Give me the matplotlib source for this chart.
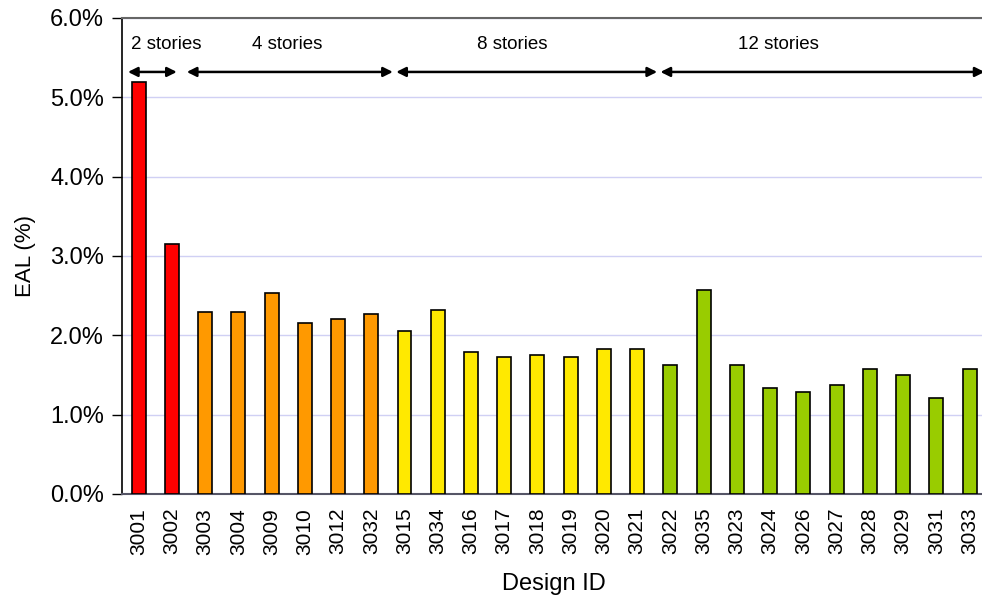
import matplotlib
matplotlib.use("Agg")
import matplotlib.pyplot as plt
from matplotlib.ticker import FuncFormatter

plt.rcParams['font.family'] = ['Liberation Sans', 'DejaVu Sans']

# Design IDs and expected annual loss (%)
design_ids = ["3001", "3002",
              "3003", "3004", "3009", "3010", "3012", "3032",
              "3015", "3034", "3016", "3017", "3018", "3019", "3020", "3021",
              "3022", "3035", "3023", "3024", "3026", "3027", "3028", "3029", "3031", "3033"]
eal_pct = [5.19, 3.15,
           2.30, 2.30, 2.53, 2.16, 2.20, 2.27,
           2.06, 2.32, 1.79, 1.73, 1.75, 1.73, 1.83, 1.83,
           1.63, 2.57, 1.62, 1.34, 1.29, 1.38, 1.58, 1.50, 1.21, 1.58]

# Story groups: label, number of designs, bar colour
group_labels = ["2 stories", "4 stories", "8 stories", "12 stories"]
group_sizes = [2, 6, 8, 10]
group_colors = ["#FF0000", "#FF9900", "#FFE900", "#99CC00"]

bar_colors = []
for size, color in zip(group_sizes, group_colors):
    bar_colors += [color] * size

fig = plt.figure(figsize=(9.82, 6.0), dpi=100)
ax = fig.add_axes([0.1242, 0.1767, 0.8801, 0.7933])

x = list(range(len(design_ids)))
ax.bar(x, eal_pct, width=0.42, color=bar_colors, edgecolor="black",
       linewidth=1.2, zorder=3)

ax.set_xlim(-0.5, len(design_ids) - 0.5)
ax.set_ylim(0, 6.0)
ax.set_yticks([0, 1, 2, 3, 4, 5, 6])
ax.yaxis.set_major_formatter(FuncFormatter(lambda v, p: f"{v:.1f}%"))
ax.grid(axis="y", color="#D0D0F4", linewidth=1.0, zorder=0)
ax.set_axisbelow(True)

ax.set_xticks(x)
ax.set_xticklabels(design_ids, rotation=90, fontsize=15)
ax.tick_params(axis="x", length=0, pad=10)
ax.tick_params(axis="y", labelsize=17, length=7, width=1.0, direction="out", pad=6)

ax.spines["left"].set_color("black")
ax.spines["left"].set_linewidth(1.2)
ax.spines["top"].set_color("#666666")
ax.spines["top"].set_linewidth(1.5)
ax.spines["bottom"].set_color("#555566")
ax.spines["bottom"].set_linewidth(1.5)
ax.spines["right"].set_visible(False)

ax.set_xlabel("Design ID", fontsize=17, labelpad=13)
ax.set_ylabel("EAL (%)", fontsize=16, labelpad=10)

# Story group arrows and labels
arrow_spans = [(-0.32, 1.15), (1.45, 7.65), (7.75, 15.6), (15.7, 25.45)]
label_x = [0.84, 4.48, 11.25, 19.25]
for (x0, x1), lx, label in zip(arrow_spans, label_x, group_labels):
    ax.annotate("", xy=(x1, 5.32), xytext=(x0, 5.32),
                arrowprops=dict(arrowstyle="<|-|>", color="black", lw=1.8,
                                mutation_scale=14, shrinkA=0, shrinkB=0),
                annotation_clip=False)
    ax.text(lx, 5.66, label, ha="center", va="center", fontsize=13.5)

fig.savefig("out.png", dpi=100)
